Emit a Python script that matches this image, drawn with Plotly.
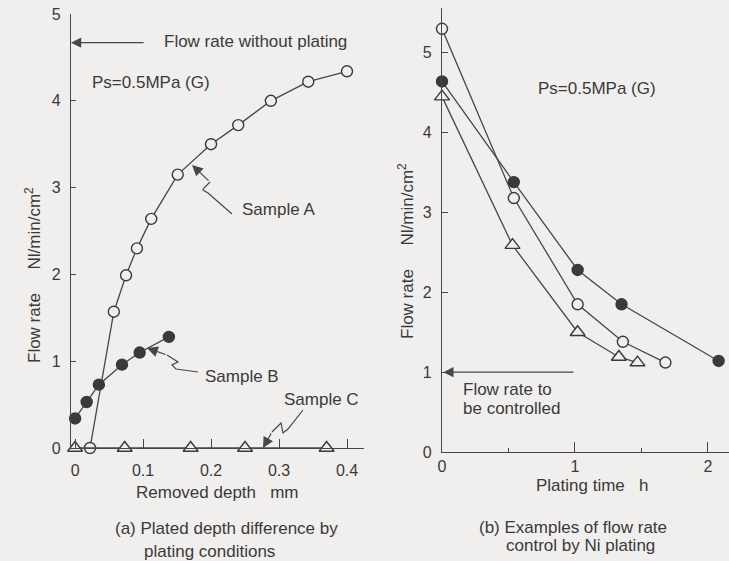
import plotly.graph_objects as go

W, H = 729, 561

# ---------------- data ----------------
# (a) Plated depth difference by plating conditions
a_depth = [0.022, 0.057, 0.075, 0.091, 0.112, 0.151, 0.200, 0.240, 0.288, 0.343, 0.400]
a_flow = [0.0, 1.57, 1.99, 2.30, 2.64, 3.15, 3.50, 3.72, 4.00, 4.22, 4.34]
b_depth = [0.0, 0.017, 0.035, 0.069, 0.095, 0.138]
b_flow = [0.34, 0.53, 0.73, 0.96, 1.10, 1.28]
c_depth = [0.0, 0.073, 0.170, 0.250, 0.370]
c_flow = [0.0, 0.0, 0.0, 0.0, 0.0]
flow_no_plating = 4.67

# (b) Examples of flow rate control by Ni plating
t_open = [0.0, 0.54, 1.02, 1.36, 1.68]
f_open = [5.30, 3.18, 1.85, 1.38, 1.12]
t_fill = [0.0, 0.54, 1.02, 1.35, 2.08]
f_fill = [4.64, 3.38, 2.28, 1.85, 1.14]
t_tri = [0.0, 0.53, 1.02, 1.33, 1.47]
f_tri = [4.45, 2.59, 1.50, 1.19, 1.12]
flow_target = 1.0

a_xticks = [0, 0.1, 0.2, 0.3, 0.4]
a_xticktext = ["0", "0.1", "0.2", "0.3", "0.4"]
yticks_ab = [0, 1, 2, 3, 4, 5]
b_xticks = [0, 1, 2]
b_xminor = [0.5, 1.5]

# ---------------- style ----------------
BG = "#f0efed"
INK = "#3a3a3a"
LINE = "#474747"
FONT = "Liberation Sans, Arial, Helvetica, sans-serif"


def px(x):
    return x / W


def py(y):
    return 1 - y / H


def series(x, y, symbol, filled, xa, ya):
    return go.Scatter(
        x=x, y=y, xaxis=xa, yaxis=ya, mode="lines+markers",
        line=dict(color=LINE, width=1.3),
        marker=dict(symbol=symbol, size=11 if symbol == "circle" else 13,
                    color=INK if filled else BG,
                    line=dict(color=INK, width=1.4)),
        cliponaxis=False, showlegend=False, hoverinfo="skip")


fig = go.Figure()
fig.add_trace(series(a_depth, a_flow, "circle", False, "x", "y"))
fig.add_trace(series(b_depth, b_flow, "circle", True, "x", "y"))
fig.add_trace(series(c_depth, c_flow, "triangle-up", False, "x", "y"))
fig.add_trace(series(t_open, f_open, "circle", False, "x2", "y2"))
fig.add_trace(series(t_fill, f_fill, "circle", True, "x2", "y2"))
fig.add_trace(series(t_tri, f_tri, "triangle-up", False, "x2", "y2"))

axis_common = dict(showline=True, linecolor=LINE, linewidth=1.3, showgrid=False,
                   zeroline=False, tickcolor=LINE, tickwidth=1.2, automargin=False,
                   tickfont=dict(family=FONT, size=16, color=INK))

fig.update_layout(
    width=W, height=H, autosize=False, margin=dict(l=0, r=0, t=0, b=0, pad=0),
    paper_bgcolor=BG, plot_bgcolor=BG,
    font=dict(family=FONT, size=17, color=INK),
    xaxis=dict(domain=[px(71), px(364)], range=[-0.006, 0.425], anchor="y",
               tickmode="array", tickvals=a_xticks, ticktext=a_xticktext,
               ticks="inside", ticklen=9, ticklabelstandoff=8, **axis_common),
    yaxis=dict(domain=[py(448), py(14)], range=[0, 5], anchor="x",
               tickmode="array", tickvals=yticks_ab,
               ticks="inside", ticklen=5, ticklabelstandoff=6, **axis_common),
    xaxis2=dict(domain=[px(442), 1.0], range=[0, 2.158], anchor="y2",
                tickmode="array", tickvals=b_xticks,
                ticks="inside", ticklen=10,
                minor=dict(tickvals=b_xminor, ticks="inside", ticklen=4,
                           tickcolor=LINE, tickwidth=1.2),
                **axis_common),
    yaxis2=dict(domain=[py(452), py(8)], range=[0, 5.56], anchor="x2",
                tickmode="array", tickvals=yticks_ab,
                ticks="inside", ticklen=6, ticklabelstandoff=6, **axis_common),
)

ann = []


def text(x, y, s, xanchor="center", angle=0):
    ann.append(dict(x=px(x), y=py(y), xref="paper", yref="paper", text=s,
                    showarrow=False, xanchor=xanchor, yanchor="middle",
                    textangle=angle, font=dict(family=FONT, size=17, color=INK)))


# panel (a) texts
text(162, 42, "Flow rate without plating", "left")
text(90, 82, "Ps=0.5MPa (G)", "left")
text(240, 210, "Sample A", "left")
text(203, 376, "Sample B", "left")
text(282, 399, "Sample C", "left")
text(217, 492, "Removed depth   mm")
text(113, 528, "(a) Plated depth difference by", "left")
text(142, 551, "plating conditions", "left")
text(33, 275, "Flow rate     Nl/min/cm<sup>2</sup>", angle=-90)

# panel (b) texts
text(536, 88, "Ps=0.5MPa (G)", "left")
text(461, 389, "Flow rate to", "left")
text(461, 408, "be controlled", "left")
text(592, 485, "Plating time   h")
text(477, 527, "(b) Examples of flow rate", "left")
text(504, 545, "control by Ni plating", "left")
text(406, 251, "Flow rate     Nl/min/cm<sup>2</sup>", angle=-90)

# horizontal reference arrows
ann.append(dict(x=-0.006, y=flow_no_plating, xref="x", yref="y",
                ax=0.103, ay=flow_no_plating, axref="x", ayref="y",
                showarrow=True, arrowhead=2, arrowsize=1.7, arrowwidth=1.2,
                arrowcolor=LINE, text=""))
ann.append(dict(x=0.01, y=flow_target, xref="x2", yref="y2",
                ax=1.0, ay=flow_target, axref="x2", ayref="y2",
                showarrow=True, arrowhead=2, arrowsize=1.7, arrowwidth=1.2,
                arrowcolor=LINE, text=""))

# squiggly leaders (pixel positions of the leader drawing)
leaders = [
    [(192, 165), (210, 182), (204, 188), (203, 190), (208, 193), (232, 214)],
    [(147, 348), (167, 355), (178, 362), (172, 365), (176, 369), (198, 372)],
    [(263, 448), (272, 432), (281, 423), (283, 433), (288, 429), (303, 410)],
]
shapes = []
for pts in leaders:
    (tx, ty), (bx, by) = pts[0], pts[1]
    ann.append(dict(x=px(tx), y=py(ty), xref="paper", yref="paper",
                    ax=bx - tx, ay=by - ty, showarrow=True, arrowhead=2,
                    arrowsize=1.8, arrowwidth=1.2, arrowcolor=LINE, text=""))
    path = "M " + " L ".join(f"{px(x):.5f},{py(y):.5f}" for x, y in pts[1:])
    shapes.append(dict(type="path", path=path, xref="paper", yref="paper",
                       line=dict(color=LINE, width=1.2)))

fig.update_layout(annotations=ann, shapes=shapes)

post = (
    "document.documentElement.style.margin='0';"
    "document.documentElement.style.padding='0';"
    "document.body.style.margin='0';"
    "document.body.style.padding='0';"
    "document.body.style.overflow='hidden';"
    "document.body.style.background='%s';"
    "Plotly.relayout('{plot_id}', {width: %d, height: %d});" % (BG, W, H)
)
fig.write_html("out.html", post_script=post,
               config={"responsive": False, "displayModeBar": False})
